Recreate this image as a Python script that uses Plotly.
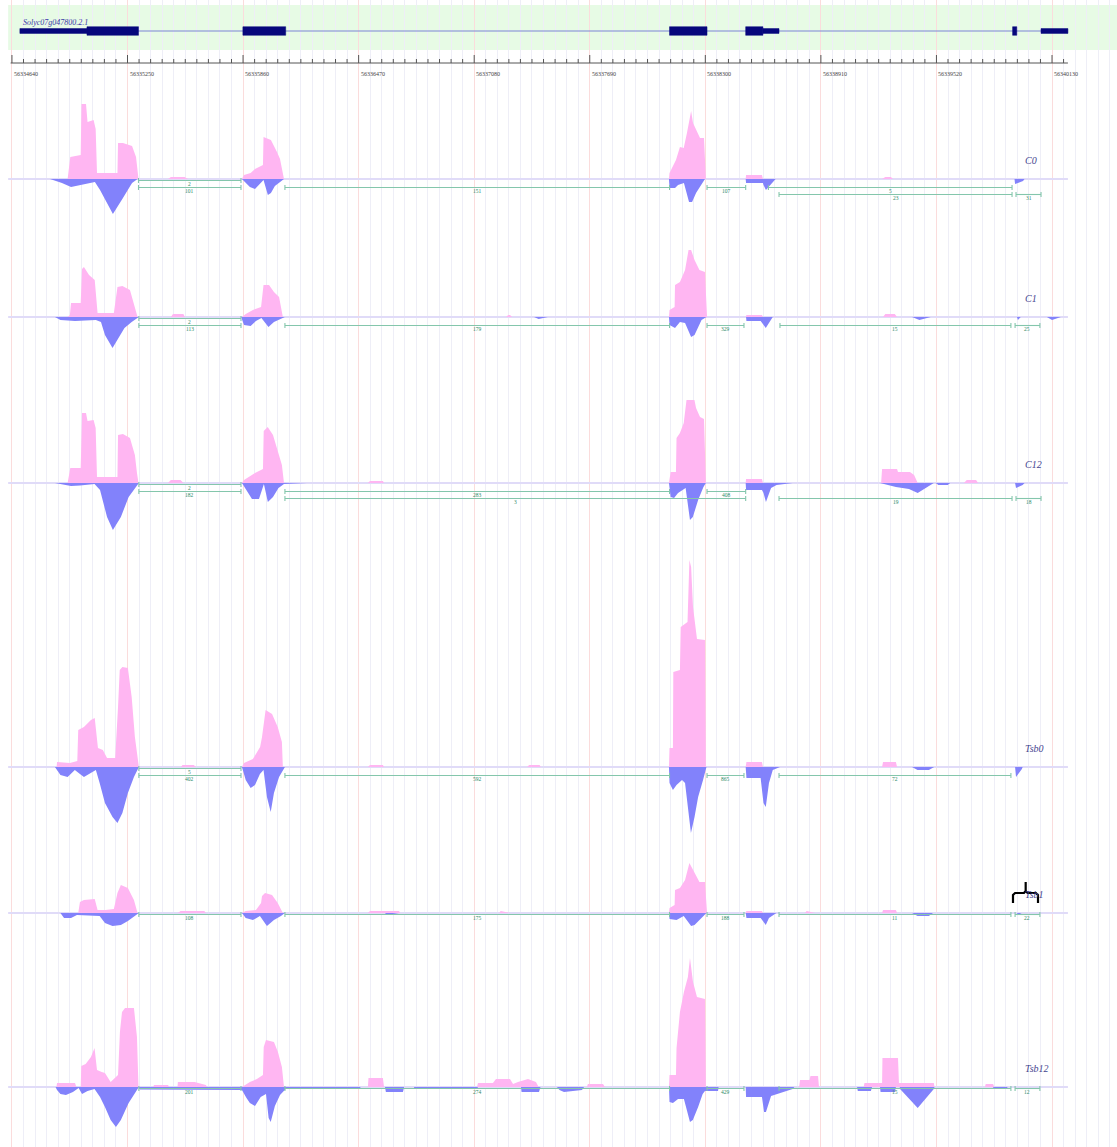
import plotly.graph_objects as go

# ---------------------------------------------------------------- data ----
GENE_NAME = "Solyc07g047800.2.1"
GENE_SPAN = (56334682, 56340209)
GENE_CDS = [(56335036, 56335308), (56335859, 56336085), (56338111, 56338309),
            (56338513, 56338604), (56339922, 56339944)]
GENE_UTR = [(56334682, 56335036), (56338604, 56338689), (56340072, 56340214)]

MAJOR_TICKS = [56334640, 56335250, 56335860, 56336470, 56337080,
               56337690, 56338300, 56338910, 56339520, 56340130]
MINOR_STEP = 61
RULER_SPAN = (56334633, 56340214)

TRACK_NAMES = ["C0", "C1", "C12", "Tsb0", "Tsb1", "Tsb12"]

# coverage knots (position, depth); plus strand drawn up, minus strand down
C0_PLUS = [
    (56334934, 0), (56334948, 22), (56335003, 24), (56335007, 75), (56335031, 75), (56335039, 57),
    (56335071, 59), (56335082, 50), (56335089, 6), (56335197, 6), (56335200, 36), (56335226, 36),
    (56335274, 33), (56335295, 22), (56335308, 0),
    (56335464, 0), (56335479, 2), (56335551, 2), (56335570, 0),
    (56335854, 0), (56335865, 4), (56335900, 6), (56335923, 10), (56335965, 14), (56335968, 42),
    (56336007, 39), (56336039, 27), (56336055, 20), (56336076, 0),
    (56338108, 0), (56338111, 6), (56338145, 19), (56338166, 32), (56338186, 31), (56338203, 46),
    (56338225, 68), (56338235, 56), (56338251, 49), (56338272, 41), (56338293, 41), (56338303, 0),
    (56338513, 0), (56338515, 4), (56338599, 4), (56338604, 0),
    (56339233, 0), (56339250, 2), (56339280, 2), (56339290, 0)]
C0_MINUS = [
    (56334841, 0), (56334904, 4), (56334952, 8), (56335010, 6), (56335078, 3), (56335105, 11),
    (56335142, 24), (56335173, 35), (56335226, 19), (56335274, 4), (56335303, 0),
    (56335854, 0), (56335896, 8), (56335923, 10), (56335968, 1), (56335991, 16), (56336007, 14),
    (56336028, 7), (56336076, 0),
    (56338108, 0), (56338111, 9), (56338140, 9), (56338156, 6), (56338187, 4), (56338214, 23),
    (56338230, 23), (56338251, 14), (56338280, 6), (56338298, 0),
    (56338513, 0), (56338515, 4), (56338604, 4), (56338607, 6), (56338620, 11), (56338671, 0),
    (56339932, 0), (56339935, 5), (56339977, 2), (56339985, 0)]
C0_JUNCTIONS = [(56335308, 56335849, 2, 0), (56335308, 56335849, 101, 1),
                (56336081, 56338111, 151, 1), (56338309, 56338513, 107, 1),
                (56338633, 56339919, 5, 1), (56338689, 56339919, 23, 2),
                (56339940, 56340072, 31, 2)]

C1_PLUS = [
    (56334934, 0), (56334946, 2), (56334952, 14), (56335003, 14), (56335010, 48), (56335020, 50),
    (56335047, 42), (56335077, 37), (56335092, 4), (56335178, 4), (56335197, 30), (56335223, 31),
    (56335263, 27), (56335289, 10), (56335303, 0),
    (56335479, 0), (56335490, 3), (56335545, 3), (56335553, 0),
    (56335854, 0), (56335874, 3), (56335912, 7), (56335955, 10), (56335968, 32), (56335997, 32),
    (56336023, 25), (56336050, 20), (56336070, 0),
    (56337248, 0), (56337260, 2), (56337269, 2), (56337280, 0),
    (56338108, 0), (56338111, 7), (56338138, 10), (56338140, 32), (56338166, 35), (56338193, 47),
    (56338216, 72), (56338243, 57), (56338269, 47), (56338298, 45), (56338309, 0),
    (56338513, 0), (56338517, 2), (56338599, 2), (56338604, 0),
    (56339238, 0), (56339250, 3), (56339300, 3), (56339312, 0)]
C1_MINUS = [
    (56334867, 0), (56334896, 3), (56334973, 4), (56335083, 3), (56335110, 5), (56335131, 18),
    (56335171, 31), (56335197, 23), (56335234, 11), (56335272, 5), (56335310, 0),
    (56335850, 0), (56335865, 8), (56335900, 9), (56335928, 4), (56335957, 1), (56335994, 10),
    (56336023, 5), (56336060, 2), (56336081, 0),
    (56337396, 0), (56337420, 2), (56337469, 0),
    (56338108, 0), (56338111, 8), (56338140, 11), (56338166, 5), (56338193, 6), (56338225, 20),
    (56338243, 18), (56338280, 3), (56338306, 0),
    (56338515, 0), (56338517, 4), (56338592, 4), (56338607, 8), (56338619, 11), (56338656, 0),
    (56339391, 0), (56339430, 3), (56339490, 0),
    (56339945, 0), (56339950, 3), (56339965, 0),
    (56340103, 0), (56340130, 3), (56340177, 0)]
C1_JUNCTIONS = [(56335310, 56335849, 2, 0), (56335310, 56335849, 113, 1),
                (56336081, 56338111, 179, 1), (56338309, 56338504, 329, 1),
                (56338694, 56339913, 15, 1), (56339935, 56340066, 25, 1)]

C12_PLUS = [
    (56334934, 0), (56334948, 15), (56335003, 15), (56335010, 70), (56335031, 70), (56335039, 62),
    (56335071, 63), (56335082, 55), (56335089, 6), (56335197, 6), (56335200, 48), (56335226, 49),
    (56335263, 45), (56335289, 28), (56335300, 10), (56335308, 0),
    (56335464, 0), (56335479, 3), (56335530, 3), (56335545, 0),
    (56335854, 0), (56335865, 3), (56335923, 10), (56335965, 14), (56335969, 52), (56335990, 56),
    (56336018, 48), (56336044, 30), (56336065, 18), (56336076, 0),
    (56336519, 0), (56336530, 2), (56336598, 2), (56336604, 0),
    (56338108, 0), (56338117, 11), (56338145, 11), (56338148, 45), (56338166, 50), (56338186, 60),
    (56338203, 80), (56338216, 107), (56338230, 95), (56338251, 75), (56338272, 66), (56338293, 64),
    (56338303, 0),
    (56338513, 0), (56338515, 4), (56338599, 4), (56338604, 0),
    (56339228, 0), (56339233, 14), (56339312, 14), (56339317, 11), (56339380, 11), (56339402, 8),
    (56339421, 0),
    (56339665, 0), (56339680, 3), (56339729, 3), (56339740, 0)]
C12_MINUS = [
    (56334867, 0), (56334915, 2), (56334952, 3), (56335000, 2.5), (56335076, 1), (56335105, 7),
    (56335142, 34), (56335173, 47), (56335215, 34), (56335256, 14), (56335293, 4), (56335310, 0),
    (56335854, 0), (56335886, 10), (56335907, 16), (56335944, 16), (56335970, 1), (56335991, 19),
    (56336018, 14), (56336047, 5), (56336076, 1), (56336197, 0),
    (56338108, 0), (56338117, 14), (56338135, 15), (56338156, 10), (56338196, 5), (56338219, 37),
    (56338234, 34), (56338262, 17), (56338290, 4), (56338303, 0),
    (56338513, 0), (56338515, 7), (56338599, 7), (56338607, 10), (56338620, 19), (56338647, 5),
    (56338676, 2), (56338761, 0),
    (56339222, 0), (56339306, 4), (56339375, 6), (56339421, 10), (56339460, 5), (56339506, 0),
    (56339516, 0), (56339530, 2), (56339580, 2), (56339592, 0),
    (56339935, 0), (56339940, 5), (56339975, 2), (56339985, 0)]
C12_JUNCTIONS = [(56335310, 56335849, 2, 0), (56335310, 56335849, 182, 1),
                 (56336081, 56338111, 283, 1), (56336081, 56338513, 3, 2),
                 (56338309, 56338513, 408, 1), (56338689, 56339919, 19, 2),
                 (56339940, 56340072, 18, 2)]

TSB0_PLUS = [
    (56334876, 0), (56334878, 5), (56334946, 4), (56334985, 6), (56334990, 37), (56335020, 40),
    (56335057, 47), (56335077, 49), (56335094, 19), (56335120, 17), (56335142, 9), (56335185, 9),
    (56335200, 60), (56335209, 97), (56335223, 100), (56335252, 99), (56335272, 70), (56335289, 30),
    (56335310, 0),
    (56335532, 0), (56335540, 2), (56335600, 2), (56335611, 0),
    (56335854, 0), (56335865, 4), (56335912, 8), (56335950, 20), (56335960, 30), (56335979, 57),
    (56336013, 53), (56336043, 40), (56336065, 25), (56336070, 0),
    (56336519, 0), (56336530, 2), (56336598, 2), (56336604, 0),
    (56337359, 0), (56337370, 2), (56337425, 2), (56337432, 0),
    (56338108, 0), (56338111, 19), (56338129, 19), (56338131, 95), (56338166, 97), (56338170, 140),
    (56338206, 145), (56338216, 207), (56338225, 200), (56338235, 160), (56338256, 128),
    (56338298, 127), (56338303, 0),
    (56338513, 0), (56338517, 5), (56338599, 5), (56338604, 0),
    (56339233, 0), (56339238, 5), (56339306, 5), (56339312, 0)]
TSB0_MINUS = [
    (56334867, 0), (56334896, 8), (56334934, 10), (56334972, 3), (56334999, 7), (56335020, 10),
    (56335047, 7), (56335083, 3), (56335103, 16), (56335131, 36), (56335171, 50), (56335197, 56),
    (56335223, 46), (56335252, 26), (56335284, 10), (56335310, 0),
    (56335854, 0), (56335874, 13), (56335900, 21), (56335923, 18), (56335949, 7), (56335968, 3),
    (56335986, 30), (56336006, 45), (56336023, 26), (56336050, 10), (56336081, 0),
    (56338108, 0), (56338111, 16), (56338129, 23), (56338148, 18), (56338177, 13), (56338193, 16),
    (56338208, 43), (56338224, 66), (56338243, 50), (56338262, 30), (56338288, 13), (56338306, 0),
    (56338513, 0), (56338517, 11), (56338592, 11), (56338607, 36), (56338619, 40), (56338636, 16),
    (56338656, 3), (56338694, 0),
    (56339391, 0), (56339420, 3), (56339480, 3), (56339508, 0),
    (56339935, 0), (56339940, 10), (56339971, 2), (56339975, 0)]
TSB0_JUNCTIONS = [(56335310, 56335849, 5, 0), (56335310, 56335849, 402, 1),
                  (56336081, 56338111, 592, 1), (56338309, 56338504, 865, 1),
                  (56338689, 56339913, 72, 1)]

TSB1_PLUS = [
    (56334990, 0), (56334999, 11), (56335020, 13), (56335057, 14), (56335077, 14), (56335092, 3),
    (56335133, 3), (56335178, 4), (56335197, 20), (56335215, 28), (56335252, 25), (56335284, 13),
    (56335303, 0),
    (56335516, 0), (56335530, 2), (56335655, 2), (56335664, 0),
    (56335854, 0), (56335874, 2), (56335928, 3), (56335955, 10), (56335960, 17), (56335976, 20),
    (56336013, 18), (56336043, 10), (56336070, 0),
    (56336519, 0), (56336530, 2), (56336683, 2), (56336690, 0),
    (56337211, 0), (56337220, 2), (56337269, 0),
    (56338108, 0), (56338111, 5), (56338138, 8), (56338140, 23), (56338166, 25), (56338193, 33),
    (56338216, 50), (56338243, 40), (56338269, 31), (56338298, 31), (56338309, 0),
    (56338513, 0), (56338517, 2), (56338599, 2), (56338604, 0),
    (56338826, 0), (56338835, 2), (56338879, 0),
    (56339233, 0), (56339238, 3), (56339306, 3), (56339312, 0)]
TSB1_MINUS = [
    (56334896, 0), (56334915, 5), (56334952, 5), (56334983, 2), (56335103, 3), (56335131, 10),
    (56335171, 13), (56335215, 12), (56335252, 8), (56335289, 3), (56335310, 0),
    (56335854, 0), (56335874, 5), (56335912, 7), (56335949, 3), (56335986, 13), (56336023, 7),
    (56336060, 3), (56336081, 0),
    (56336609, 0), (56336620, 2), (56336683, 0),
    (56338108, 0), (56338111, 6), (56338148, 7), (56338186, 3), (56338225, 13), (56338243, 12),
    (56338280, 5), (56338306, 0),
    (56338513, 0), (56338517, 5), (56338592, 5), (56338619, 12), (56338636, 5), (56338675, 0),
    (56339391, 0), (56339420, 3), (56339480, 3), (56339502, 0),
    (56339945, 0), (56339950, 2), (56339970, 0)]
TSB1_JUNCTIONS = [(56335310, 56335849, 108, 0), (56336081, 56338111, 175, 0),
                  (56338309, 56338504, 188, 0), (56338689, 56339913, 11, 0),
                  (56339935, 56340066, 22, 0)]

TSB12_PLUS = [
    (56334875, 0), (56334878, 4), (56334973, 4), (56334980, 0), (56335003, 0), (56335006, 21),
    (56335029, 23), (56335057, 30), (56335076, 39), (56335089, 17), (56335114, 15), (56335131, 14),
    (56335161, 5), (56335189, 10), (56335200, 12), (56335210, 55), (56335221, 75), (56335237, 79),
    (56335284, 79), (56335300, 50), (56335308, 0),
    (56335385, 0), (56335390, 2), (56335464, 2), (56335470, 0),
    (56335514, 0), (56335516, 5), (56335604, 5), (56335664, 2), (56335670, 0),
    (56335854, 0), (56335896, 5), (56335933, 8), (56335965, 12), (56335969, 40), (56335981, 47),
    (56336023, 45), (56336044, 35), (56336065, 20), (56336076, 0),
    (56336519, 0), (56336522, 9), (56336598, 9), (56336604, 0),
    (56337095, 0), (56337100, 4), (56337179, 4), (56337195, 8), (56337269, 8), (56337285, 3),
    (56337311, 5), (56337364, 8), (56337406, 5), (56337420, 0),
    (56337675, 0), (56337680, 3), (56337760, 3), (56337770, 0),
    (56338108, 0), (56338111, 12), (56338145, 12), (56338148, 39), (56338166, 75), (56338187, 95),
    (56338208, 110), (56338219, 129), (56338235, 105), (56338256, 90), (56338298, 88), (56338303, 0),
    (56338795, 0), (56338800, 7), (56338850, 7), (56338855, 11), (56338895, 11), (56338900, 0),
    (56339136, 0), (56339140, 4), (56339233, 4), (56339235, 29), (56339317, 29), (56339322, 4),
    (56339506, 4), (56339510, 0),
    (56339776, 0), (56339780, 3), (56339819, 3), (56339825, 0)]
TSB12_MINUS = [
    (56334870, 0), (56334878, 3), (56334896, 7), (56334925, 8), (56334962, 5), (56334992, 1),
    (56335010, 7), (56335039, 4), (56335076, 2), (56335105, 10), (56335131, 20), (56335161, 33),
    (56335189, 40), (56335215, 33), (56335256, 16), (56335284, 7), (56335308, 0),
    (56335310, 0), (56335315, 2.5), (56335849, 2.5), (56335854, 3), (56335878, 11), (56335896, 16),
    (56335923, 19), (56335953, 10), (56335981, 7), (56335995, 31), (56336006, 35), (56336028, 19),
    (56336055, 8), (56336085, 2), (56336477, 2), (56336480, 0),
    (56336609, 0), (56336614, 5), (56336704, 5), (56336710, 0),
    (56336762, 0), (56336765, 2), (56337095, 2), (56337100, 0),
    (56337327, 0), (56337330, 5), (56337422, 5), (56337430, 0),
    (56337517, 0), (56337530, 3), (56337554, 5), (56337649, 3), (56337660, 0),
    (56338108, 0), (56338111, 15), (56338129, 16), (56338156, 12), (56338187, 12), (56338219, 35),
    (56338234, 33), (56338262, 20), (56338286, 7), (56338298, 4), (56338367, 4), (56338370, 0),
    (56338513, 0), (56338515, 10), (56338599, 10), (56338610, 25), (56338620, 25), (56338647, 9),
    (56338694, 6), (56338761, 2), (56338770, 0),
    (56339101, 0), (56339105, 4), (56339174, 4), (56339180, 0),
    (56339222, 0), (56339225, 5), (56339301, 5), (56339306, 0),
    (56339326, 0), (56339328, 2), (56339421, 21), (56339506, 2), (56339510, 0),
    (56339819, 0), (56339822, 2), (56339892, 2), (56339895, 0)]
TSB12_JUNCTIONS = [(56335310, 56335849, 201, 0), (56336081, 56338111, 274, 0),
                   (56338309, 56338504, 429, 0), (56338689, 56339913, 15, 0),
                   (56339935, 56340066, 12, 0)]

COVERAGE = {
    "C0": (C0_PLUS, C0_MINUS, C0_JUNCTIONS),
    "C1": (C1_PLUS, C1_MINUS, C1_JUNCTIONS),
    "C12": (C12_PLUS, C12_MINUS, C12_JUNCTIONS),
    "Tsb0": (TSB0_PLUS, TSB0_MINUS, TSB0_JUNCTIONS),
    "Tsb1": (TSB1_PLUS, TSB1_MINUS, TSB1_JUNCTIONS),
    "Tsb12": (TSB12_PLUS, TSB12_MINUS, TSB12_JUNCTIONS),
}

# hand-drawn brace marking the last junction of Tsb1 (track depth units)
BRACE_X = [56339924, 56339924, 56339935, 56339982, 56339991, 56339991, 56339991,
           56340001, 56340045, 56340056, 56340056]
BRACE_Y = [10, 18, 20, 20, 22, 31, 22, 20, 20, 18, 10]

# ---------------------------------------------------------------- layout --
W, H = 1117, 1147
X_RANGE = [56334577, 56340473]
# per track: baseline, top, bottom (pixels from top of page)
TRACK_BOX = {"C0": (179, 90, 250), "C1": (317, 250, 400), "C12": (483, 400, 550),
             "Tsb0": (767, 550, 848), "Tsb1": (913, 848, 945), "Tsb12": (1087, 945, 1147)}
LANE_OFFSET = [1.5, 8.5, 15.5]
BAND_TOP, BAND_BOTTOM = 5, 50
GENE_Y = 31
RULER_Y = 63
LABEL_Y = 74

PINK = "#ffb6f2"
BLUE = "#8282fb"
BASE = "#e0dbf8"
JUNC = "#84c6ac"
JUNC_TXT = "#2e8a68"
NAVY = "#06067c"
SERIF = "Liberation Serif"

fig = go.Figure()
annotations = []

# gene model -------------------------------------------------------------
fig.add_trace(go.Scatter(x=list(GENE_SPAN), y=[GENE_Y, GENE_Y], mode="lines",
                         line=dict(color="#7c86d6", width=1.2), hoverinfo="skip"))


def blocks(spans, half):
    xs, ys = [], []
    for s, e in spans:
        xs += [s, e, e, s, s, None]
        ys += [GENE_Y - half, GENE_Y - half, GENE_Y + half, GENE_Y + half, GENE_Y - half, None]
    return xs, ys


for spans, half in ((GENE_UTR, 2.4), (GENE_CDS, 4.3)):
    bx, by = blocks(spans, half)
    fig.add_trace(go.Scatter(x=bx, y=by, mode="lines", fill="toself", fillcolor=NAVY,
                             line=dict(color=NAVY, width=0.5), hoverinfo="skip"))
annotations.append(dict(x=GENE_SPAN[0] + 5, y=GENE_Y - 9, xref="x", yref="y",
                        text="<i>" + GENE_NAME + "</i>", showarrow=False, xanchor="left",
                        yanchor="middle", font=dict(family=SERIF, size=8, color="#3b3ba6")))

# ruler -------------------------------------------------------------------
fig.add_trace(go.Scatter(x=list(RULER_SPAN), y=[RULER_Y, RULER_Y], mode="lines",
                         line=dict(color="#555555", width=1), hoverinfo="skip"))
tx, ty = [], []
pos = MAJOR_TICKS[0]
while pos <= RULER_SPAN[1]:
    major = (pos - MAJOR_TICKS[0]) % 610 == 0
    tx += [pos, pos, None]
    ty += [RULER_Y, RULER_Y - (8 if major else 4), None]
    pos += MINOR_STEP
fig.add_trace(go.Scatter(x=tx, y=ty, mode="lines", line=dict(color="#555555", width=1),
                         hoverinfo="skip"))
for t in MAJOR_TICKS:
    annotations.append(dict(x=t, y=LABEL_Y, xref="x", yref="y", text=str(t), showarrow=False,
                            xanchor="left", yanchor="middle",
                            font=dict(family=SERIF, size=6, color="#444444")))

# coverage tracks ---------------------------------------------------------
layout_axes = {}
for i, name in enumerate(TRACK_NAMES):
    ax = f"y{i + 2}"
    base, top, bottom = TRACK_BOX[name]
    layout_axes[f"yaxis{i + 2}"] = dict(domain=[1 - bottom / H, 1 - top / H],
                                        range=[-(bottom - base), base - top],
                                        anchor="x", visible=False, fixedrange=True)
    plus, minus, juncs = COVERAGE[name]

    fig.add_trace(go.Scatter(x=[56334620, RULER_SPAN[1]], y=[0, 0], yaxis=ax, mode="lines",
                             line=dict(color=BASE, width=2), hoverinfo="skip"))
    fig.add_trace(go.Scatter(x=[p for p, _ in plus], y=[v for _, v in plus], yaxis=ax,
                             mode="lines", fill="tozeroy", fillcolor=PINK,
                             line=dict(width=0), hoverinfo="skip"))
    fig.add_trace(go.Scatter(x=[p for p, _ in minus], y=[-v for _, v in minus], yaxis=ax,
                             mode="lines", fill="tozeroy", fillcolor=BLUE,
                             line=dict(width=0), hoverinfo="skip"))

    jx, jy = [], []
    for s, e, count, lane in juncs:
        off = LANE_OFFSET[lane]
        jx += [s, e, None, s, s, None, e, e, None]
        jy += [-off, -off, None, -off + 2.5, -off - 2.5, None, -off + 2.5, -off - 2.5, None]
        annotations.append(dict(x=(s + e) / 2, y=-off - 3.2, xref="x", yref=ax, text=str(count),
                                showarrow=False, xanchor="center", yanchor="middle",
                                font=dict(family=SERIF, size=5.5, color=JUNC_TXT)))
    fig.add_trace(go.Scatter(x=jx, y=jy, yaxis=ax, mode="lines",
                             line=dict(color=JUNC, width=1.1), hoverinfo="skip"))

    annotations.append(dict(x=56339978, y=19, xref="x", yref=ax, text="<i>" + name + "</i>",
                            showarrow=False, xanchor="left", yanchor="middle",
                            font=dict(family=SERIF, size=10, color="#45458f")))

    if name == "Tsb1":
        fig.add_trace(go.Scatter(x=BRACE_X, y=BRACE_Y, yaxis=ax, mode="lines",
                                 line=dict(color="black", width=2.2), hoverinfo="skip"))

fig.update_layout(
    width=W, height=H, margin=dict(l=0, r=0, t=0, b=0),
    paper_bgcolor="white", plot_bgcolor="rgba(0,0,0,0)", showlegend=False,
    xaxis=dict(range=X_RANGE, tickmode="linear", tick0=MAJOR_TICKS[0], dtick=610,
               showgrid=True, gridcolor="#fbdcdc", gridwidth=1, zeroline=False,
               showticklabels=False, ticks="", showline=False, fixedrange=True,
               minor=dict(tick0=MAJOR_TICKS[0], dtick=MINOR_STEP, showgrid=True,
                          gridcolor="#eeeef7", gridwidth=1, ticks="")),
    yaxis=dict(domain=[0, 1], range=[H, 0], visible=False, fixedrange=True),
    shapes=[dict(type="rect", xref="x", yref="y", x0=56334620, x1=X_RANGE[1],
                 y0=BAND_TOP, y1=BAND_BOTTOM, fillcolor="#e7fbe5", line=dict(width=0),
                 layer="below")],
    annotations=annotations,
    **layout_axes,
)

fig.write_html("out.html")
